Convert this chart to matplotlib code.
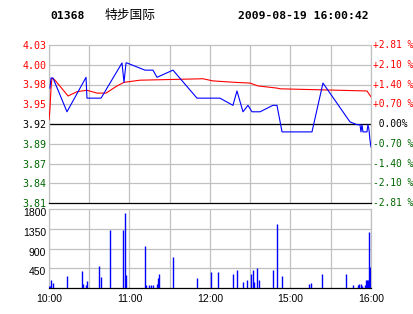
import matplotlib
matplotlib.use("Agg")
import matplotlib.pyplot as plt
import matplotlib.transforms as mtrans

# data (minutes since 10:00 on a trading-time axis)
prev_close = 3.92
price_t = [0.7, 1.5, 3.0, 13.4, 27.6, 28.3, 38.8, 54.4, 55.9, 57.4, 58.1, 71.5, 77.5, 80.5,
           92.4, 110.3, 127.4, 137.1, 140.1, 144.6, 148.3, 151.3, 157.3, 166.9, 169.9,
           173.7, 196.0, 204.2, 224.3, 229.6, 231.8, 232.5, 233.3, 234.0, 237.0, 237.7,
           238.5, 239.2, 240.0]
price_v = [3.970, 3.984, 3.984, 3.937, 3.985, 3.956, 3.956, 4.005, 3.978, 4.005, 4.005,
           3.995, 3.995, 3.985, 3.995, 3.956, 3.956, 3.946, 3.966, 3.937, 3.946, 3.937,
           3.937, 3.946, 3.946, 3.909, 3.909, 3.977, 3.923, 3.919, 3.919, 3.909, 3.919,
           3.909, 3.909, 3.919, 3.912, 3.898, 3.888]
avg_t = [0, 0.7, 1.5, 2.2, 4.5, 14.2, 20.9, 28.3, 35.8, 42.5, 50.7, 55.9, 67.8, 114.8,
         122.2, 138.6, 149.8, 155.8, 169.9, 172.2, 237.0, 239.2, 240.0]
avg_v = [3.926, 3.941, 3.970, 3.984, 3.981, 3.959, 3.965, 3.967, 3.963, 3.963, 3.973,
         3.978, 3.981, 3.983, 3.980, 3.978, 3.977, 3.973, 3.970, 3.969, 3.966, 3.960, 3.958]
vol_t = [0, 0.7, 1.5, 3.0, 13.4, 24.6, 25.3, 27.6, 28.3, 37.3, 38.8, 45.5, 55.2, 56.6,
         57.4, 71.5, 72.3, 74.5, 76.0, 77.5, 80.5, 81.2, 82.0, 92.4, 110.3, 120.7, 126.0,
         137.1, 140.1, 144.6, 147.6, 150.6, 152.0, 152.8, 155.0, 156.5, 167.0, 170.0,
         173.7, 193.8, 195.3, 203.5, 221.4, 226.6, 230.3, 231.0, 232.5, 233.3, 235.5,
         236.3, 237.0, 237.7, 238.5, 239.2]
vol_v = [45, 45, 180, 110, 270, 390, 90, 70, 160, 500, 250, 1320, 1320, 1710, 300, 960,
         70, 60, 60, 70, 90, 230, 320, 710, 230, 370, 370, 320, 410, 140, 180, 320, 410,
         140, 450, 180, 410, 1460, 270, 90, 120, 320, 320, 70, 70, 90, 90, 45, 70, 180,
         180, 180, 1280, 480]
price_labels = ["3.81", "3.84", "3.87", "3.89", "3.92", "3.95", "3.98", "4.00", "4.03"]
pct_labels = ["-2.81 %", "-2.10 %", "-1.40 %", "-0.70 %", " 0.00%",
              "+0.70 %", "+1.40 %", "+2.10 %", "+2.81 %"]
time_ticks = [0, 60, 120, 180, 240]
time_labels = ["10:00", "11:00", "12:00", "15:00", "16:00"]
vol_ticks = [450, 900, 1350, 1800]

RED = "#ff0000"
GREEN = "#006600"
GRID = "#c0c0c0"
mono = "DejaVu Sans Mono"
sans = "Liberation Sans"

fig = plt.figure(figsize=(4.14, 3.14), dpi=100)
fig.patch.set_facecolor("white")

W, H = 414.0, 314.0
def box(l, t, r, b):
    return [l / W, 1 - b / H, (r - l) / W, (b - t) / H]

ax = fig.add_axes(box(49, 45, 371, 203))
axv = fig.add_axes(box(49, 209, 371, 288))

# price panel
step = 0.0275
levels = [prev_close + k * step for k in range(-4, 5)]
colors = [GREEN] * 4 + ["black"] + [RED] * 4
ax.set_xlim(0, 240)
ax.set_ylim(levels[0], levels[-1])
for x in range(0, 241, 30):
    ax.axvline(x, color=GRID, lw=0.9, zorder=0)
for y in levels[1:-1]:
    ax.axhline(y, color=GRID, lw=0.9, zorder=0)
ax.axhline(prev_close, color="black", lw=0.9, zorder=1)
ax.plot(avg_t, avg_v, color=RED, lw=0.8, zorder=3)
ax.plot(price_t, price_v, color="blue", lw=0.8, zorder=4)
ax.set_xticks([])
ax.set_yticks(levels)
ax.set_yticklabels(price_labels, fontfamily=mono, fontsize=7.2)
ax.tick_params(axis="y", length=0, pad=2)
for lab, c in zip(ax.get_yticklabels(), colors):
    lab.set_color(c)
for v, txt, c in zip(levels, pct_labels, colors):
    ax.text(1.005, (v - levels[0]) / (levels[-1] - levels[0]), txt, transform=ax.transAxes,
            ha="left", va="center", fontfamily=mono, fontsize=6.9, color=c)
for s in ["top", "left", "right"]:
    ax.spines[s].set_color(GRID)
    ax.spines[s].set_linewidth(0.9)
ax.spines["bottom"].set_color("black")
ax.spines["bottom"].set_linewidth(0.9)

# volume panel
axv.set_xlim(0, 240)
axv.set_ylim(0, 1800)
for x in range(0, 241, 30):
    axv.axvline(x, color=GRID, lw=0.9, zorder=0)
for y in vol_ticks[:-1]:
    axv.axhline(y, color=GRID, lw=0.9, zorder=0)
axv.vlines(vol_t, 0, vol_v, color="blue", lw=1.0, zorder=3)
axv.set_yticks(vol_ticks)
axv.set_yticklabels([str(v) for v in vol_ticks], fontfamily=sans, fontsize=7.5)
axv.set_xticks(time_ticks)
axv.set_xticklabels(time_labels, fontfamily=sans, fontsize=7.5)
axv.tick_params(length=0, pad=2)
axv.tick_params(axis="x", pad=4)
shift = mtrans.ScaledTranslation(0, -3 / 100, fig.dpi_scale_trans)
for lab in axv.get_yticklabels():
    lab.set_transform(lab.get_transform() + shift)
for s in ["top", "left", "right"]:
    axv.spines[s].set_color(GRID)
    axv.spines[s].set_linewidth(0.9)
axv.spines["bottom"].set_color("black")
axv.spines["bottom"].set_linewidth(0.9)

# header
fig.text(50 / W, 1 - 16 / H, "01368", fontfamily=mono, fontweight="bold", fontsize=8.2,
         ha="left", va="center")
fig.text(105 / W, 1 - 16 / H, "特步国际", fontfamily=["Noto Sans CJK SC", "DejaVu Sans"],
         fontsize=9.2, ha="left", va="center")
fig.text(238 / W, 1 - 16 / H, "2009-08-19 16:00:42", fontfamily=mono, fontweight="bold",
         fontsize=8.2, ha="left", va="center")

fig.savefig("out.png", dpi=100)
